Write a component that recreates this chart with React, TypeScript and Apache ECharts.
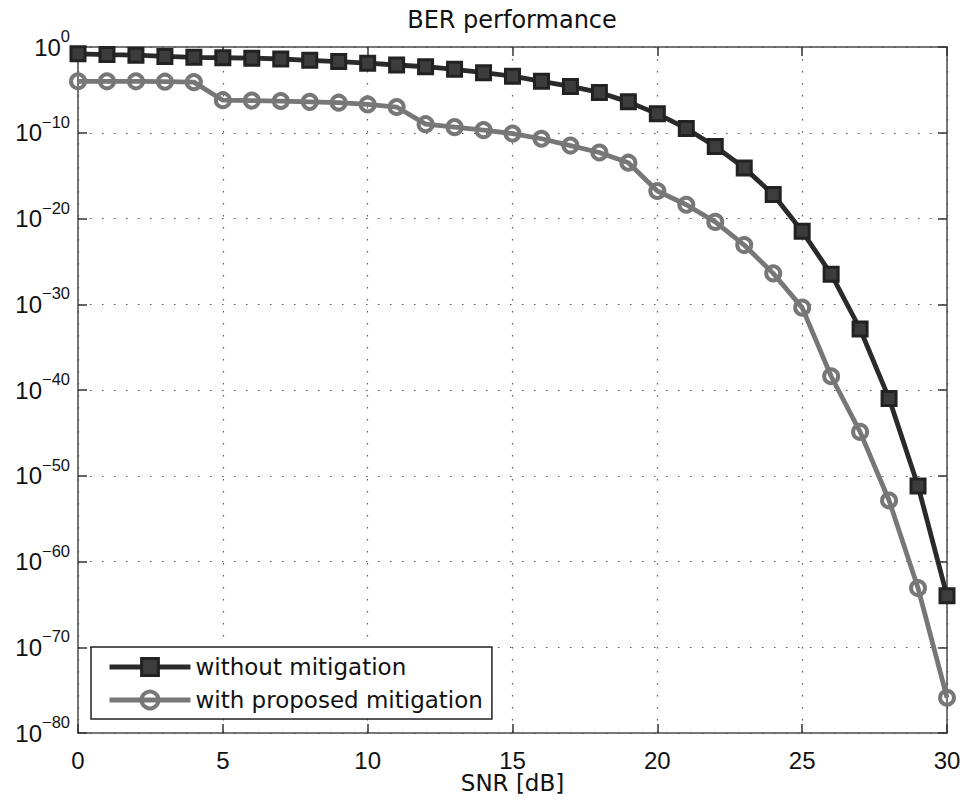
import React, { useEffect, useRef } from 'react';
import * as echarts from 'echarts';

// SNR values (dB)
const snrDb = [0, 1, 2, 3, 4, 5, 6, 7, 8, 9, 10, 11, 12, 13, 14, 15, 16, 17, 18, 19, 20, 21, 22, 23, 24, 25, 26, 27, 28, 29, 30];

// BER without mitigation
const berWithout = [
  1.6e-1, 1.3e-1, 1.1e-1, 8e-2, 6.3e-2, 5.6e-2, 5e-2, 4e-2, 2.8e-2, 2e-2,
  1.3e-2, 8e-3, 5e-3, 2.5e-3, 1e-3, 4e-4, 1e-4, 2.5e-5, 5e-6, 4e-7,
  1.6e-8, 3.2e-10, 2.5e-12, 8e-15, 6.3e-18, 3.2e-22, 3.2e-27, 1.3e-33, 1e-41, 6.3e-52,
  1e-64,
];

// BER with proposed mitigation
const berWithProposed = [
  1e-4, 1e-4, 1e-4, 9e-5, 8e-5, 6.3e-7, 5.6e-7, 5e-7, 4e-7, 3.2e-7,
  2e-7, 1e-7, 1e-9, 4.5e-10, 2e-10, 8e-11, 2e-11, 3.2e-12, 5e-13, 3.2e-14,
  1.6e-17, 4e-19, 4e-21, 8e-24, 4e-27, 4e-31, 4e-39, 1.3e-45, 1.3e-53, 8e-64,
  1.3e-76,
];

const seriesNames = ['without mitigation', 'with proposed mitigation'];
const titleText = 'BER performance';
const xAxisName = 'SNR [dB]';
const xTicks = { min: 0, max: 30, interval: 5 };
// y axis in decades (log10 of BER): 10^-80 .. 10^0, ticks every 10 decades
const yDecades = { min: -80, max: 0, interval: 10 };

const FONT = 'DejaVu Sans';
const TICK_FONT = 'Liberation Sans';
const TEXT = '#111';
const FRAME = '#4a4a4a';
const DARK = '#2a2a2a';
const GRAY = '#777';

export default function App() {
  const ref = useRef<HTMLDivElement>(null);

  useEffect(() => {
    if (!ref.current) return;
    const chart = echarts.init(ref.current, null, { renderer: 'svg' });

    const gridLine = { show: true, lineStyle: { color: '#555', width: 1.2, type: [1.5, 10.5] } };
    const frameLine = { show: true, onZero: false, lineStyle: { color: FRAME, width: 1.5 } };
    const innerTick = { show: true, inside: true, length: 9, lineStyle: { color: '#333', width: 1.5 } };

    const squareItem = { color: '#3c3c3c', borderColor: '#222', borderWidth: 3 };
    const circleItem = { color: 'rgba(0,0,0,0)', borderColor: GRAY, borderWidth: 4 };

    const option = {
      animation: false,
      backgroundColor: '#fff',
      graphic: [
        {
          type: 'text',
          x: 512,
          y: 8,
          style: {
            text: titleText,
            fontSize: 24,
            fontFamily: FONT,
            fill: TEXT,
            align: 'center',
            verticalAlign: 'top',
          },
        },
      ],
      grid: { left: 78, right: 17, top: 47, bottom: 69, containLabel: false, outerBoundsMode: 'none' },
      xAxis: [
        {
          type: 'value',
          position: 'bottom',
          min: xTicks.min,
          max: xTicks.max,
          interval: xTicks.interval,
          axisLine: frameLine,
          axisTick: innerTick,
          axisLabel: { fontSize: 24, fontFamily: TICK_FONT, color: TEXT, margin: 15 },
          splitLine: gridLine,
          name: xAxisName,
          nameLocation: 'middle',
          nameGap: 37,
          nameMoveOverlap: false,
          nameTextStyle: { fontSize: 23, fontFamily: FONT, color: TEXT, lineHeight: 25 },
        },
        {
          type: 'value',
          position: 'top',
          min: xTicks.min,
          max: xTicks.max,
          interval: xTicks.interval,
          axisLine: frameLine,
          axisTick: innerTick,
          axisLabel: { show: false },
          splitLine: { show: false },
        },
      ],
      yAxis: [
        {
          type: 'value',
          position: 'left',
          min: yDecades.min,
          max: yDecades.max,
          interval: yDecades.interval,
          axisLine: frameLine,
          axisTick: innerTick,
          splitLine: gridLine,
          axisLabel: {
            margin: 8,
            formatter: (v: number) => {
              const e = Math.round(v);
              const es = e === 0 ? '0' : '\u2212' + String(-e);
              return `{b|10}{e|${es}}`;
            },
            rich: {
              b: { fontSize: 24, fontFamily: TICK_FONT, color: TEXT, lineHeight: 39 },
              e: { fontSize: 16.5, fontFamily: TICK_FONT, color: TEXT, lineHeight: 16, verticalAlign: 'top' },
            },
          },
        },
        {
          type: 'value',
          position: 'right',
          min: yDecades.min,
          max: yDecades.max,
          interval: yDecades.interval,
          axisLine: frameLine,
          axisTick: innerTick,
          axisLabel: { show: false },
          splitLine: { show: false },
        },
      ],
      legend: {
        orient: 'vertical',
        left: 91,
        top: 647,
        itemWidth: 81,
        itemHeight: 21,
        itemGap: 7,
        padding: [7, 9, 6, 16],
        backgroundColor: '#fff',
        borderColor: '#222',
        borderWidth: 1.5,
        borderRadius: 0,
        textStyle: { fontSize: 23, fontFamily: FONT, color: TEXT, lineHeight: 26 },
        data: [
          { name: seriesNames[0], itemStyle: squareItem, lineStyle: { color: DARK, width: 5 } },
          { name: seriesNames[1], itemStyle: circleItem, lineStyle: { color: GRAY, width: 5 } },
        ],
      },
      series: [
        {
          name: seriesNames[0],
          type: 'line',
          xAxisIndex: 0,
          yAxisIndex: 0,
          data: snrDb.map((x, i) => [x, Math.log10(berWithout[i])]),
          symbol: 'rect',
          symbolSize: 14,
          showAllSymbol: true,
          lineStyle: { color: DARK, width: 4.8 },
          itemStyle: squareItem,
          z: 3,
        },
        {
          name: seriesNames[1],
          type: 'line',
          xAxisIndex: 0,
          yAxisIndex: 0,
          data: snrDb.map((x, i) => [x, Math.log10(berWithProposed[i])]),
          symbol: 'circle',
          symbolSize: 14,
          showAllSymbol: true,
          lineStyle: { color: GRAY, width: 4.8 },
          itemStyle: circleItem,
          z: 2,
        },
      ],
    };

    chart.setOption(option as any);
    return () => chart.dispose();
  }, []);

  return (
    <div
      ref={ref}
      style={{ position: 'absolute', left: 0, top: 0, width: 964, height: 802, background: '#fff' }}
    />
  );
}
